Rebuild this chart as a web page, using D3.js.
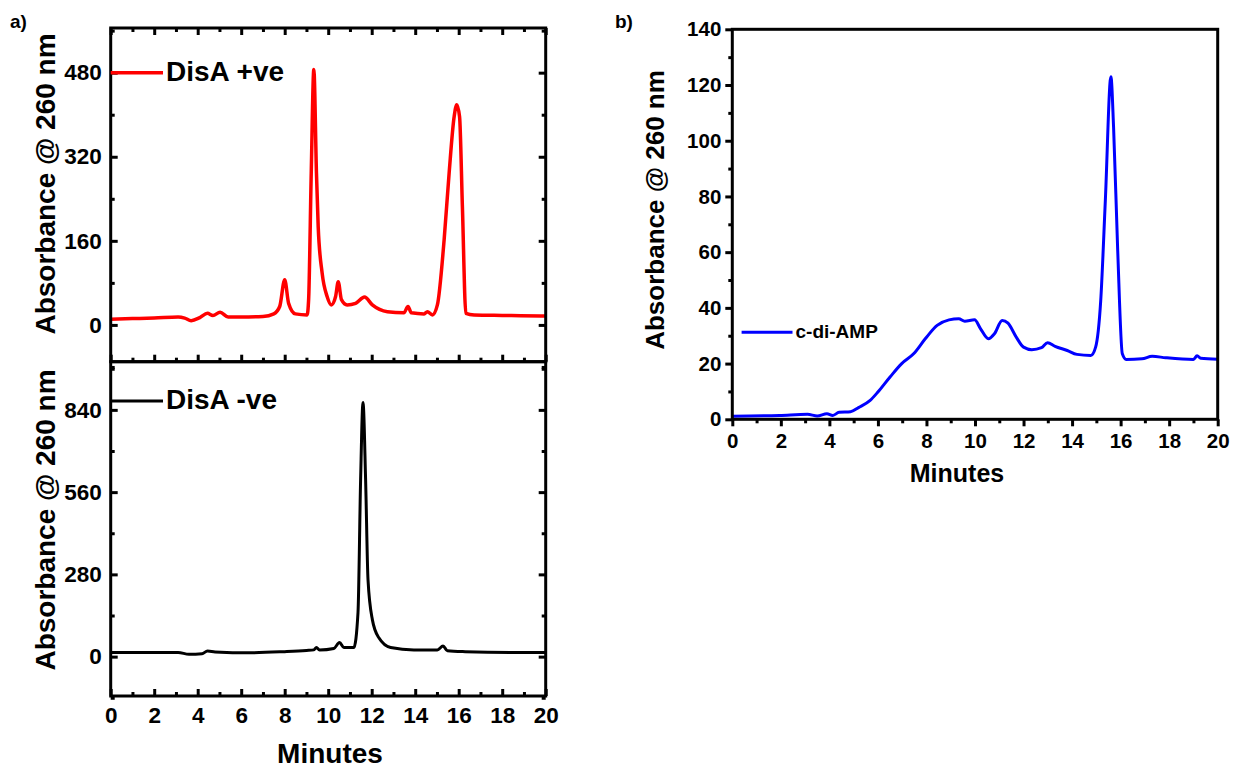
<!DOCTYPE html>
<html>
<head>
<meta charset="utf-8">
<script src="https://cdn.jsdelivr.net/npm/d3@7"></script>
<style>
  body { margin: 0; background: #fff; }
  svg text { font-family: 'Liberation Sans', Arial, sans-serif; font-weight: bold; fill: #000; }
</style>
</head>
<body>
<script>
// ---- data ----
var xTicks = [0, 2, 4, 6, 8, 10, 12, 14, 16, 18, 20];
var xMinor = [1, 3, 5, 7, 9, 11, 13, 15, 17, 19];

// a) top: DisA +ve
var posTicks = [0, 160, 320, 480];
var posMinor = [-80, 80, 240, 400, 560];
var posTime = [0, 1, 2, 3.1, 3.4, 3.7, 4.1, 4.45, 4.7, 5.03, 5.4, 6.0, 7.0, 7.5, 7.77, 8.0, 8.18, 8.49, 9.03, 9.1, 9.22, 9.34, 9.46, 9.54, 9.72, 9.95, 10.14, 10.34, 10.46, 10.61, 10.87, 11.26, 11.67, 12.03, 12.72, 13.48, 13.67, 13.82, 14.41, 14.56, 14.79, 15.02, 15.33, 15.56, 15.79, 15.91, 16.04, 16.17, 16.33, 16.71, 18, 19.78, 20];
var posAbs  = [11, 12, 13, 15, 13, 8, 14, 22, 18, 24, 15, 15, 16, 21, 35, 86, 41, 21, 19, 48, 289, 486, 289, 187, 99, 54, 38, 54, 82, 48, 38, 41, 53, 38, 25, 23, 35, 23, 21, 25, 19, 38, 162, 289, 396, 419, 396, 225, 22, 19, 18, 17, 17];

// a) bottom: DisA -ve
var negTicks = [0, 280, 560, 840];
var negMinor = [-140, 140, 420, 700, 980];
var negTime = [0, 2, 3.1, 3.6, 4.2, 4.45, 4.8, 6.4, 8.0, 9.0, 9.34, 9.46, 9.6, 10.26, 10.52, 10.72, 11.18, 11.37, 11.49, 11.6, 11.72, 11.83, 12.03, 12.33, 12.87, 13.94, 15.02, 15.28, 15.48, 16.3, 18.86, 20];
var negAbs  = [14, 14, 14, 8, 10, 19, 16, 13, 17, 21, 23, 31, 23, 28, 48, 31, 31, 150, 602, 865, 602, 262, 126, 64, 31, 23, 23, 36, 20, 17, 14, 14];

// b) c-di-AMP
var cdaTicks = [0, 20, 40, 60, 80, 100, 120, 140];
var cdaMinor = [10, 30, 50, 70, 90, 110, 130];
var cdaTime = [0, 1.95, 3.1, 3.5, 3.9, 4.14, 4.4, 4.87, 5.2, 5.68, 6.0, 6.5, 6.98, 7.47, 7.95, 8.44, 8.93, 9.33, 9.58, 9.98, 10.23, 10.55, 10.8, 11.12, 11.36, 11.7, 12.0, 12.34, 12.74, 12.99, 13.3, 13.8, 14.2, 14.77, 14.97, 15.18, 15.37, 15.6, 15.71, 15.88, 16.07, 16.23, 16.88, 17.3, 17.86, 19.0, 19.15, 19.3, 20];
var cdaAbs  = [1.1, 1.4, 1.8, 1.2, 2.0, 1.4, 2.5, 2.7, 4.2, 6.8, 9.8, 15.2, 20, 23.5, 28.9, 33.7, 35.7, 36.1, 35.2, 35.7, 32.5, 28.9, 30.7, 35.5, 34.5, 29.5, 25.9, 25, 25.7, 27.5, 26.2, 24.7, 23.3, 22.9, 25.9, 42.6, 78.5, 123, 104.8, 60.6, 23.5, 21.5, 21.7, 22.6, 22.1, 21.5, 22.8, 21.9, 21.6];

var width = 1236,
    height = 770;

var svg = d3.select('body').append('svg')
    .attr('width', width)
    .attr('height', height);

function zip(t, v) {
    return t.map(function(d, i) { return [d, v[i]]; });
}

function panel(o) {
    var x = d3.scaleLinear().domain([0, 20]).range([o.left, o.right]);
    var y = d3.scaleLinear().domain(o.yDomain).range([o.bottom, o.top]);
    var g = svg.append('g');

    var dir = o.inward ? -1 : 1;
    var major = 7 * dir, minor = 4 * dir;

    function ax(axis, tr, vals, size, pad, labels) {
        var a = axis.tickValues(vals).tickSizeInner(size).tickSizeOuter(0).tickPadding(pad);
        if (!labels) a.tickFormat('');
        var s = g.append('g').attr('transform', tr).call(a);
        s.select('.domain').remove();
        s.selectAll('line').attr('stroke', '#000').attr('stroke-width', 3);
        s.selectAll('text').style('font-size', o.tickFont + 'px').style('font-weight', 'bold')
            .attr('font-family', null).attr('fill', '#000');
        return s;
    }

    // left
    ax(d3.axisLeft(y), 'translate(' + o.left + ',0)', o.yTicks, major, o.yPad, true);
    ax(d3.axisLeft(y), 'translate(' + o.left + ',0)', o.yMinor, minor, 0, false);
    // bottom
    ax(d3.axisBottom(x), 'translate(0,' + o.bottom + ')', xTicks, major, o.xPad, o.xLabels);
    ax(d3.axisBottom(x), 'translate(0,' + o.bottom + ')', xMinor, minor, 0, false);
    if (o.inward) {
        // right
        ax(d3.axisRight(y), 'translate(' + o.right + ',0)', o.yTicks, major, 0, false);
        ax(d3.axisRight(y), 'translate(' + o.right + ',0)', o.yMinor, minor, 0, false);
        if (o.topTicks) {
            ax(d3.axisTop(x), 'translate(0,' + o.top + ')', xTicks, major, 0, false);
            ax(d3.axisTop(x), 'translate(0,' + o.top + ')', xMinor, minor, 0, false);
        }
    }

    var line = d3.line()
        .x(function(d) { return x(d[0]); })
        .y(function(d) { return y(d[1]); })
        .curve(d3.curveMonotoneX);

    g.append('path')
        .datum(zip(o.time, o.abs))
        .attr('d', line)
        .attr('fill', 'none')
        .attr('stroke', o.color)
        .attr('stroke-width', o.lineW)
        .attr('stroke-linejoin', 'round');

    g.append('rect')
        .attr('x', o.left).attr('y', o.top)
        .attr('width', o.right - o.left).attr('height', o.bottom - o.top)
        .attr('fill', 'none').attr('stroke', '#000').attr('stroke-width', 3);

    // legend
    g.append('line')
        .attr('x1', o.legX1).attr('x2', o.legX2)
        .attr('y1', o.legY).attr('y2', o.legY)
        .attr('stroke', o.color).attr('stroke-width', o.lineW);
    g.append('text')
        .attr('x', o.legX2 + 3).attr('y', o.legY + o.legDy)
        .style('font-size', o.legFont + 'px')
        .text(o.name);

    // y title
    g.append('text')
        .attr('transform', 'translate(' + o.yTitleX + ',' + o.yTitleY + ') rotate(-90)')
        .attr('text-anchor', 'middle')
        .style('font-size', o.yTitleFont + 'px')
        .text('Absorbance @ 260 nm');

    return g;
}

panel({
    left: 110.7, right: 545.7, top: 28, bottom: 361.7,
    yDomain: [-70, 565], yTicks: posTicks, yMinor: posMinor,
    inward: true, topTicks: true, xLabels: false, yPad: 9, xPad: 0, tickFont: 22.5,
    time: posTime, abs: posAbs, color: '#ff0000', lineW: 3.5, name: 'DisA +ve',
    legX1: 110.7, legX2: 163, legY: 72.7, legDy: 8, legFont: 28,
    yTitleX: 55, yTitleY: 184, yTitleFont: 28
});

panel({
    left: 110.7, right: 545.7, top: 361.7, bottom: 696,
    yDomain: [-134, 1004], yTicks: negTicks, yMinor: negMinor,
    inward: true, topTicks: false, xLabels: true, yPad: 9, xPad: 11, tickFont: 22.5,
    time: negTime, abs: negAbs, color: '#000', lineW: 3, name: 'DisA -ve',
    legX1: 110.7, legX2: 163, legY: 401, legDy: 8, legFont: 28,
    yTitleX: 55, yTitleY: 520, yTitleFont: 28
});

panel({
    left: 732.3, right: 1217.7, top: 29.3, bottom: 419.3,
    yDomain: [0, 140], yTicks: cdaTicks, yMinor: cdaMinor,
    inward: false, topTicks: false, xLabels: true, yPad: 4, xPad: 7, tickFont: 20.5,
    time: cdaTime, abs: cdaAbs, color: '#0000ff', lineW: 3, name: 'c-di-AMP',
    legX1: 741.6, legX2: 792.5, legY: 332.3, legDy: 6, legFont: 19,
    yTitleX: 664, yTitleY: 210, yTitleFont: 26
});

// x titles and panel letters
svg.append('text').attr('x', 330).attr('y', 763).attr('text-anchor', 'middle')
    .style('font-size', '28px').text('Minutes');
svg.append('text').attr('x', 957).attr('y', 482).attr('text-anchor', 'middle')
    .style('font-size', '25px').text('Minutes');
svg.append('text').attr('x', 10).attr('y', 28).style('font-size', '19px').text('a)');
svg.append('text').attr('x', 615).attr('y', 28).style('font-size', '19px').text('b)');
</script>
</body>
</html>
